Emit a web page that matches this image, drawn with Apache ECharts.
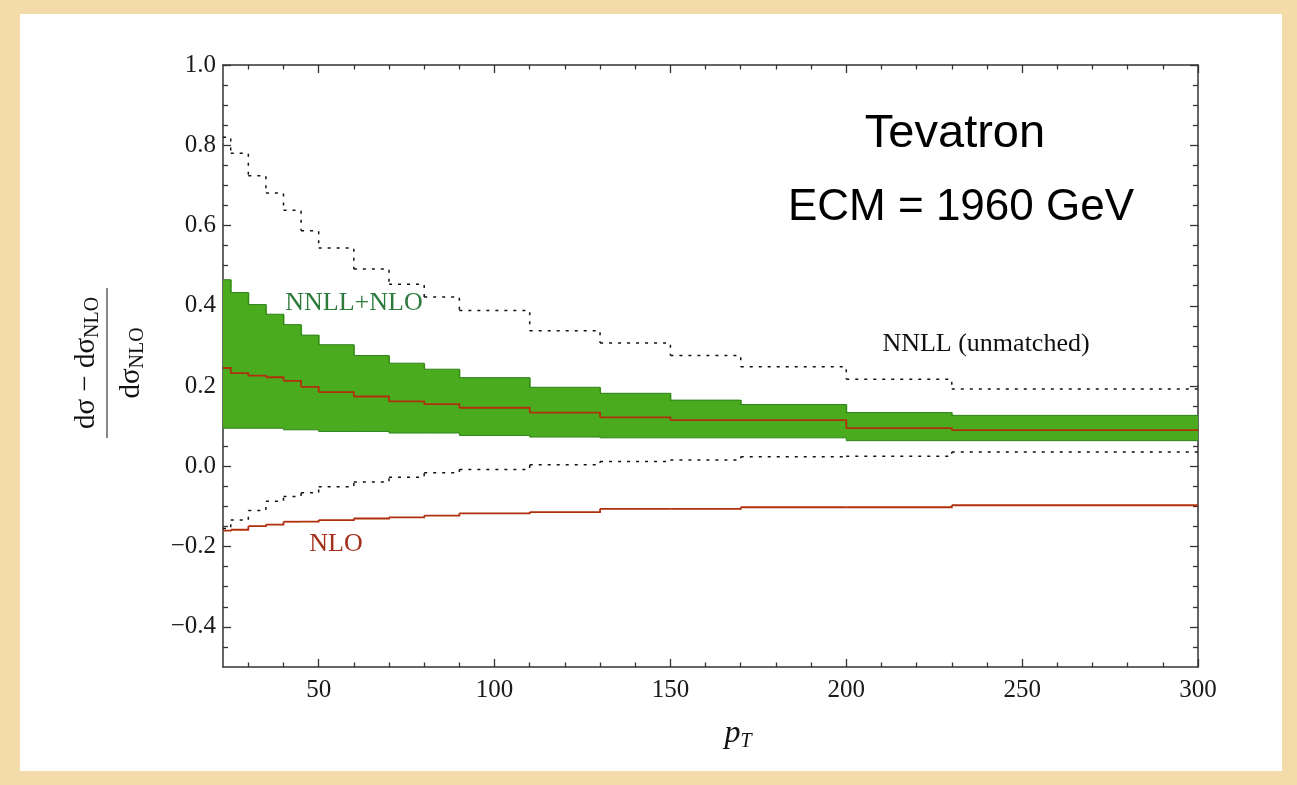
<!DOCTYPE html>
<html>
<head>
<meta charset="utf-8">
<title>Tevatron pT ratio</title>
<script src="https://cdn.jsdelivr.net/npm/echarts@6/dist/echarts.min.js"></script>
<style>
  html, body { margin: 0; padding: 0; background: #f3dcaa; }
  #panel { position: absolute; left: 20px; top: 14px; width: 1262px; height: 757px; background: #fff; }
  #chart { position: absolute; left: 0; top: 0; width: 1297px; height: 785px; }
</style>
</head>
<body>
<div id="panel"></div>
<div id="chart"></div>
<script>
  // bin edges in pT (first edge = left end of the axis)
  var binEdges = [22.8, 25, 30, 35, 40, 45, 50, 60, 70, 80, 90, 110, 130, 150, 170, 200, 230, 300];

  // NNLL (unmatched) band, dotted
  var nnllHigh = [0.82, 0.780, 0.724, 0.681, 0.638, 0.587, 0.544, 0.492, 0.454, 0.422, 0.388, 0.338, 0.307, 0.276, 0.248, 0.217, 0.193];
  var nnllLow = [-0.155, -0.134, -0.110, -0.087, -0.075, -0.066, -0.051, -0.039, -0.027, -0.016, -0.008, 0.004, 0.012, 0.016, 0.024, 0.025, 0.036];

  // NNLL+NLO band (green) and its central value
  var bandHigh = [0.465, 0.433, 0.403, 0.379, 0.353, 0.327, 0.303, 0.276, 0.257, 0.242, 0.221, 0.197, 0.182, 0.165, 0.154, 0.134, 0.127];
  var bandLow = [0.095, 0.095, 0.095, 0.095, 0.091, 0.091, 0.087, 0.087, 0.083, 0.083, 0.077, 0.073, 0.071, 0.071, 0.071, 0.064, 0.064];
  var matched = [0.245, 0.232, 0.226, 0.222, 0.213, 0.198, 0.185, 0.174, 0.162, 0.155, 0.146, 0.134, 0.122, 0.115, 0.115, 0.095, 0.090];

  // NLO scale variation (red, lower)
  var nloLow = [-0.160, -0.158, -0.149, -0.145, -0.138, -0.138, -0.134, -0.130, -0.127, -0.123, -0.117, -0.114, -0.106, -0.106, -0.102, -0.102, -0.097];

  // ticks
  var xMajorTicks = [50, 100, 150, 200, 250, 300];
  var xMinorTicks = [30, 40, 60, 70, 80, 90, 110, 120, 130, 140, 160, 170, 180, 190, 210, 220, 230, 240, 260, 270, 280, 290];
  var yMajorTicks = [-0.4, -0.2, 0, 0.2, 0.4, 0.6, 0.8, 1.0];
  var yMinorTicks = [-0.45, -0.35, -0.3, -0.25, -0.15, -0.1, -0.05, 0.05, 0.1, 0.15, 0.25, 0.3, 0.35, 0.45, 0.5, 0.55, 0.65, 0.7, 0.75, 0.85, 0.9, 0.95];

  var serif = '"Liberation Serif", "Times New Roman", serif';
  var sans = '"Liberation Sans", Arial, sans-serif';
  var axisColor = '#333';
  var bandFill = '#4aab1f';
  var bandEdge = '#2f801c';
  var red = '#b0300e';

  // one item per bin: [x0, x1, y, yNext] -> horizontal run then riser to the next bin
  function stepBins(vals) {
    return vals.map(function (v, i) {
      var next = i + 1 < vals.length ? vals[i + 1] : v;
      return [binEdges[i], binEdges[i + 1], v, next];
    });
  }

  function stepSeries(name, vals, lineStyle, z) {
    return {
      name: name, type: 'custom', z: z,
      data: stepBins(vals),
      encode: { x: [0, 1], y: [2, 3] },
      renderItem: function (params, api) {
        var a = api.coord([api.value(0), api.value(2)]);
        var b = api.coord([api.value(1), api.value(2)]);
        var c = api.coord([api.value(1), api.value(3)]);
        return {
          type: 'polyline',
          shape: { points: [a, b, c] },
          style: Object.assign({ fill: null }, lineStyle)
        };
      }
    };
  }

  // one rectangle per bin: [x0, x1, low, high]
  var bandBins = bandHigh.map(function (v, i) {
    return [binEdges[i], binEdges[i + 1], bandLow[i], v];
  });

  function fmtY(v) {
    var s = Math.abs(v).toFixed(1);
    return v < -1e-9 ? '\u2212' + s : s;
  }

  function xAxis(grid, pos, ticks, len, labels) {
    return {
      type: 'value', gridIndex: grid, position: pos, min: 22.8, max: 300,
      axisLine: { show: grid === 0, onZero: false, lineStyle: { color: axisColor, width: 1.5 } },
      axisTick: { show: true, inside: true, length: len, customValues: ticks, lineStyle: { color: axisColor, width: 1.3 } },
      axisLabel: labels ? { show: true, customValues: ticks, margin: 11, fontFamily: serif, fontSize: 25, color: '#1a1a1a' } : { show: false },
      splitLine: { show: false }
    };
  }

  function yAxis(grid, pos, ticks, len, labels) {
    return {
      type: 'value', gridIndex: grid, position: pos, min: -0.5, max: 1.0,
      axisLine: { show: grid === 0, onZero: false, lineStyle: { color: axisColor, width: 1.5 } },
      axisTick: { show: true, inside: true, length: len, customValues: ticks, lineStyle: { color: axisColor, width: 1.3 } },
      axisLabel: labels ? { show: true, customValues: ticks, margin: 7, fontFamily: serif, fontSize: 25, color: '#1a1a1a', formatter: fmtY } : { show: false },
      splitLine: { show: false }
    };
  }

  var gridRect = { left: 223, top: 65, width: 975, height: 602 };

  var option = {
    backgroundColor: 'transparent',
    animation: false,
    grid: [
      Object.assign({ containLabel: false }, gridRect),
      Object.assign({ containLabel: false }, gridRect)
    ],
    xAxis: [
      xAxis(0, 'bottom', xMajorTicks, 8, true),
      xAxis(0, 'top', xMajorTicks, 8, false),
      xAxis(1, 'bottom', xMinorTicks, 4.5, false),
      xAxis(1, 'top', xMinorTicks, 4.5, false)
    ],
    yAxis: [
      yAxis(0, 'left', yMajorTicks, 8, true),
      yAxis(0, 'right', yMajorTicks, 8, false),
      yAxis(1, 'left', yMinorTicks, 5, false),
      yAxis(1, 'right', yMinorTicks, 5, false)
    ],
    series: [
      {
        name: 'NNLL+NLO band', type: 'custom', z: 1,
        data: bandBins,
        encode: { x: [0, 1], y: [2, 3] },
        renderItem: function (params, api) {
          var p0 = api.coord([api.value(0), api.value(3)]);
          var p1 = api.coord([api.value(1), api.value(2)]);
          var last = params.dataIndex === bandBins.length - 1;
          return {
            type: 'rect',
            shape: { x: p0[0], y: p0[1], width: p1[0] - p0[0] + (last ? 0 : 1), height: p1[1] - p0[1] },
            style: { fill: bandFill, stroke: null, lineWidth: 0 }
          };
        }
      },
      stepSeries('band high', bandHigh, { stroke: bandEdge, lineWidth: 1 }, 2),
      stepSeries('band low', bandLow, { stroke: bandEdge, lineWidth: 1 }, 2),
      stepSeries('NNLL+NLO central', matched, { stroke: red, lineWidth: 1.8 }, 3),
      stepSeries('NLO', nloLow, { stroke: red, lineWidth: 1.8 }, 3),
      stepSeries('NNLL high', nnllHigh, { stroke: '#111', lineWidth: 1.5, lineDash: [3, 6] }, 3),
      stepSeries('NNLL low', nnllLow, { stroke: '#111', lineWidth: 1.5, lineDash: [3, 6] }, 3)
    ],
    graphic: [
      { type: 'text', x: 955, y: 134, style: { text: 'Tevatron', font: '47px ' + sans, fill: '#000', textAlign: 'center', textVerticalAlign: 'middle' } },
      { type: 'text', x: 961, y: 208, style: { text: 'ECM = 1960 GeV', font: '44px ' + sans, fill: '#000', textAlign: 'center', textVerticalAlign: 'middle' } },
      { type: 'text', x: 354, y: 303, style: { text: 'NNLL+NLO', font: '26px ' + serif, fill: '#2d7a3c', textAlign: 'center', textVerticalAlign: 'middle' } },
      { type: 'text', x: 986, y: 344, style: { text: 'NNLL (unmatched)', font: '26px ' + serif, fill: '#111', textAlign: 'center', textVerticalAlign: 'middle' } },
      { type: 'text', x: 336, y: 544, style: { text: 'NLO', font: '26px ' + serif, fill: '#a3301c', textAlign: 'center', textVerticalAlign: 'middle' } },
      {
        type: 'text', x: 738, y: 734,
        style: {
          text: '{p|p}{t|T}', textAlign: 'center', textVerticalAlign: 'middle',
          rich: {
            p: { fontFamily: serif, fontStyle: 'italic', fontSize: 32, fill: '#111', lineHeight: 36, verticalAlign: 'middle' },
            t: { fontFamily: serif, fontStyle: 'italic', fontSize: 20, fill: '#111', lineHeight: 20, verticalAlign: 'bottom' }
          }
        }
      },
      {
        type: 'group', x: 107, y: 363, rotation: Math.PI / 2,
        children: [
          {
            type: 'text', x: 0, y: -21,
            style: {
              text: '{m|d\u03c3 \u2212 d\u03c3}{s|NLO}', textAlign: 'center', textVerticalAlign: 'middle',
              rich: {
                m: { fontFamily: serif, fontSize: 29, fill: '#111', lineHeight: 34, verticalAlign: 'middle' },
                s: { fontFamily: serif, fontSize: 20, fill: '#111', lineHeight: 20, verticalAlign: 'bottom' }
              }
            }
          },
          { type: 'line', shape: { x1: -75, y1: 0, x2: 75, y2: 0 }, style: { stroke: '#888', lineWidth: 2 } },
          {
            type: 'text', x: 0, y: 24,
            style: {
              text: '{m|d\u03c3}{s|NLO}', textAlign: 'center', textVerticalAlign: 'middle',
              rich: {
                m: { fontFamily: serif, fontSize: 29, fill: '#111', lineHeight: 34, verticalAlign: 'middle' },
                s: { fontFamily: serif, fontSize: 20, fill: '#111', lineHeight: 20, verticalAlign: 'bottom' }
              }
            }
          }
        ]
      }
    ]
  };

  var chart = echarts.init(document.getElementById('chart'));
  chart.setOption(option);
</script>
</body>
</html>
